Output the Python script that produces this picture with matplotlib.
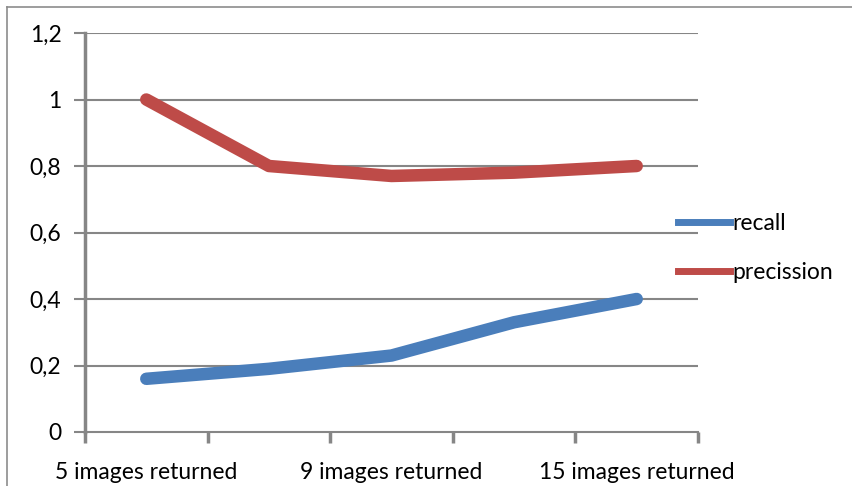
import matplotlib
matplotlib.use("Agg")
import matplotlib.pyplot as plt
from matplotlib.lines import Line2D

categories = ["5 images returned", "7 images returned", "9 images returned",
              "12 images returned", "15 images returned"]
recall = [0.16, 0.19, 0.23, 0.33, 0.40]
precission = [1.0, 0.80, 0.77, 0.78, 0.80]
series_names = ["recall", "precission"]
yticks = [0, 0.2, 0.4, 0.6, 0.8, 1.0, 1.2]
ytick_labels = ["0", "0,2", "0,4", "0,6", "0,8", "1", "1,2"]

plt.rcParams['font.family'] = ['Lato', 'DejaVu Sans']

W, H = 852, 486
fig = plt.figure(figsize=(W / 100, H / 100), dpi=100)
ax = fig.add_axes([85 / W, 1 - 432 / H, (698 - 85) / W, (432 - 33) / H])

grid_c = "#868686"
blue = "#4A7EBB"
red = "#BE4B48"
fs = 16.5

x = list(range(len(categories)))
ax.plot(x, recall, color=blue, lw=9, solid_capstyle="round", solid_joinstyle="round", zorder=3)
ax.plot(x, precission, color=red, lw=9, solid_capstyle="round", solid_joinstyle="round", zorder=3)

ax.set_xlim(-0.5, len(categories) - 0.5)
ax.set_ylim(0, 1.2)
ax.set_yticks(yticks)
ax.set_yticklabels(ytick_labels, fontsize=fs)
for yv in yticks[1:]:
    ax.axhline(yv, color=grid_c, lw=1.5, zorder=1)

# category boundary ticks
ax.set_xticks([i - 0.5 for i in range(len(categories) + 1)])
ax.set_xticklabels([])
ax.set_xticks(x, minor=True)
ax.set_xticklabels([c if i % 2 == 0 else "" for i, c in enumerate(categories)],
                   minor=True, fontsize=fs)
ax.tick_params(axis="x", which="minor", length=0, pad=21.5)
ax.tick_params(axis="x", which="major", length=8, width=2.5, color=grid_c, direction="out")
ax.tick_params(axis="y", length=8, width=1.5, color=grid_c, direction="out", pad=9)

for s in ["top", "right"]:
    ax.spines[s].set_visible(False)
ax.spines["left"].set_color(grid_c)
ax.spines["left"].set_linewidth(2.5)
ax.spines["bottom"].set_color(grid_c)
ax.spines["bottom"].set_linewidth(1.5)

handles = [Line2D([], [], color=blue, lw=5), Line2D([], [], color=red, lw=5)]
leg = fig.legend(handles, series_names, loc="center left",
                 bbox_to_anchor=(669 / W, 1 - 248 / H), frameon=False,
                 fontsize=fs, handlelength=2.25, handletextpad=0.12,
                 labelspacing=1.2, borderaxespad=0)

# outer chart border (top and left)
fig.add_artist(Line2D([7 / W, 1], [1 - 7 / H, 1 - 7 / H], color="#8c8c8c", lw=1.2,
                      transform=fig.transFigure))
fig.add_artist(Line2D([7 / W, 7 / W], [0, 1 - 7 / H], color="#8c8c8c", lw=1.2,
                      transform=fig.transFigure))

fig.savefig("out.png", dpi=100)
